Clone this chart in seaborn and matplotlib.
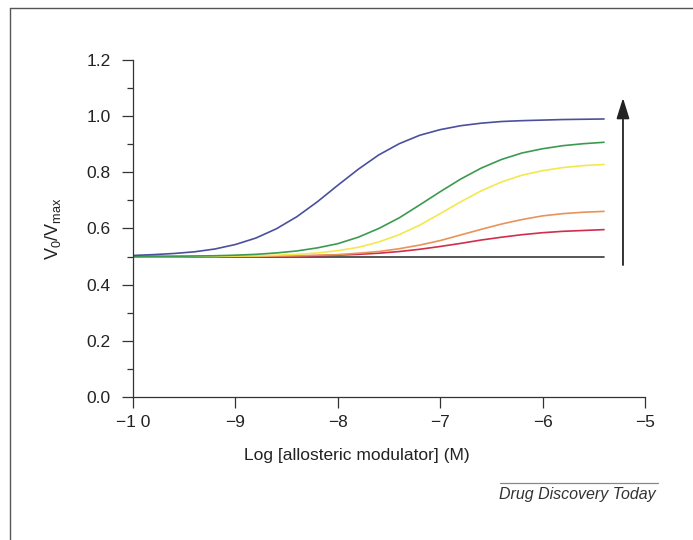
import numpy as np
import pandas as pd
import seaborn as sns
import matplotlib
matplotlib.use('Agg')
import matplotlib.pyplot as plt
from matplotlib.lines import Line2D
from matplotlib.ticker import MultipleLocator

# log concentration of allosteric modulator (M)
log_conc = [-10, -9.8, -9.6, -9.4, -9.2, -9.0, -8.8, -8.6, -8.4, -8.2, -8.0, -7.8,
            -7.6, -7.4, -7.2, -7.0, -6.8, -6.6, -6.4, -6.2, -6.0, -5.8, -5.6, -5.4]

# V0/Vmax, one list per curve
blue = [0.504, 0.507, 0.511, 0.517, 0.527, 0.543, 0.566, 0.599, 0.642, 0.695, 0.754, 0.811,
        0.862, 0.902, 0.932, 0.952, 0.966, 0.975, 0.981, 0.984, 0.986, 0.988, 0.989, 0.99]
green = [0.5, 0.501, 0.501, 0.502, 0.503, 0.505, 0.508, 0.513, 0.52, 0.531, 0.546, 0.569,
         0.6, 0.638, 0.684, 0.731, 0.776, 0.815, 0.846, 0.869, 0.884, 0.895, 0.902, 0.907]
yellow = [0.5, 0.5, 0.5, 0.501, 0.501, 0.502, 0.503, 0.505, 0.508, 0.513, 0.521, 0.533,
          0.552, 0.578, 0.612, 0.653, 0.695, 0.734, 0.766, 0.79, 0.806, 0.817, 0.824, 0.828]
orange = [0.5, 0.5, 0.5, 0.5, 0.5, 0.501, 0.501, 0.502, 0.503, 0.505, 0.507, 0.512,
          0.518, 0.528, 0.541, 0.557, 0.577, 0.597, 0.616, 0.632, 0.645, 0.653, 0.658, 0.661]
red = [0.5, 0.5, 0.5, 0.5, 0.5, 0.5, 0.5, 0.501, 0.502, 0.503, 0.505, 0.508,
       0.512, 0.518, 0.526, 0.536, 0.547, 0.559, 0.569, 0.578, 0.585, 0.59, 0.593, 0.596]
black = [0.5] * len(log_conc)

curves = {'black': black, 'red': red, 'orange': orange,
          'yellow': yellow, 'green': green, 'blue': blue}
colours = {'black': '#3a3a3a', 'red': '#cf2e4c', 'orange': '#e8935a',
           'yellow': '#f3e84c', 'green': '#3c9a50', 'blue': '#4b509c'}

df = pd.concat([pd.DataFrame({'x': log_conc, 'y': v, 'curve': k})
                for k, v in curves.items()], ignore_index=True)

sns.set_style('ticks')
plt.rcParams['font.family'] = ['Liberation Sans', 'DejaVu Sans']
plt.rcParams['mathtext.fontset'] = 'custom'
plt.rcParams['mathtext.rm'] = 'Liberation Sans'
plt.rcParams['mathtext.it'] = 'Liberation Sans:italic'

fig = plt.figure(figsize=(6.93, 5.4), dpi=100)
ax = fig.add_axes([133 / 693, 1 - 397 / 540, 512 / 693, 337 / 540])

sns.lineplot(data=df, x='x', y='y', hue='curve', palette=colours,
             linewidth=1.2, legend=False, ax=ax)

# arrow showing increasing modulator cooperativity
ax.annotate('', xy=(-5.215, 1.075), xytext=(-5.215, 0.46),
            arrowprops=dict(arrowstyle='-|>,head_length=0.9,head_width=0.28',
                            color='#222222', lw=1.3, mutation_scale=14))

ax.set_xlim(-10, -5)
ax.set_ylim(0, 1.2)
ax.set_xticks([-10, -9, -8, -7, -6, -5])
ax.set_xticklabels(['\u22121 0', '\u22129', '\u22128', '\u22127', '\u22126', '\u22125'])
ax.yaxis.set_major_locator(MultipleLocator(0.2))
ax.yaxis.set_minor_locator(MultipleLocator(0.1))
ax.set_yticklabels([f'{v:.1f}' for v in ax.get_yticks()])
ax.tick_params(axis='both', which='major', length=8, width=0.9,
               labelsize=12.5, color='#333333', labelcolor='#222222')
ax.tick_params(axis='y', which='major', pad=8)
ax.tick_params(axis='x', which='major', pad=5)
ax.tick_params(axis='y', which='minor', length=4, width=0.9, color='#333333')
ax.set_xlabel('Log [allosteric modulator] (M)', fontsize=12.5,
              color='#222222', labelpad=9)
ax.xaxis.set_label_coords((357 - 133) / 512, -0.15)
ax.set_ylabel(r'V$_0$/V$_{\rm max}$', fontsize=13, color='#222222', labelpad=17)
for s in ['top', 'right']:
    ax.spines[s].set_visible(False)
for s in ['left', 'bottom']:
    ax.spines[s].set_color('#333333')
    ax.spines[s].set_linewidth(0.9)

# frame around the figure and the journal credit
fig.add_artist(Line2D([10 / 693, 10 / 693], [0, 1 - 8 / 540], color='#555555', lw=1))
fig.add_artist(Line2D([10 / 693, 1], [1 - 8 / 540, 1 - 8 / 540], color='#555555', lw=1))
fig.add_artist(Line2D([500 / 693, 658 / 693], [1 - 483 / 540, 1 - 483 / 540],
                      color='#888888', lw=0.9))
fig.text(656 / 693, 1 - 494 / 540, 'Drug Discovery Today', ha='right',
         va='center', fontsize=11.5, style='italic', color='#333333')

fig.savefig('out.png', dpi=100)
